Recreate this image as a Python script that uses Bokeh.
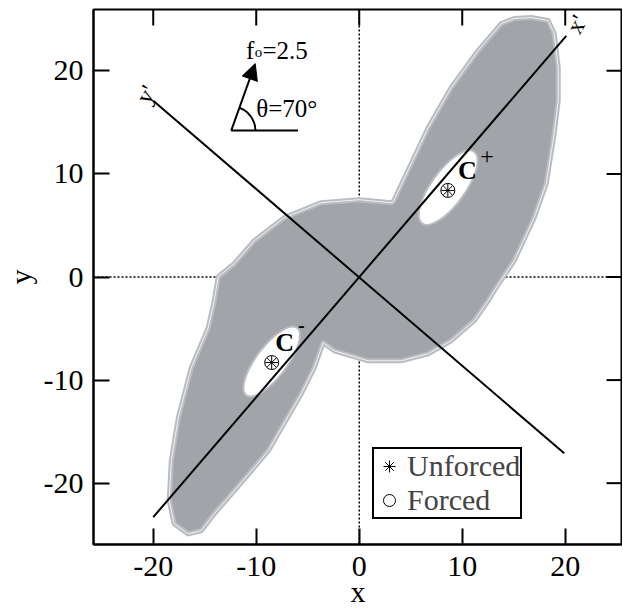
import numpy as np
from bokeh.plotting import figure
from bokeh.models import (Range1d, FixedTicker, Span, Arrow, NormalHead,
                          Label, Legend, LegendItem)
from bokeh.embed import file_html
from bokeh.resources import INLINE

# ---------------- data ----------------
ticks = [-20, -10, 0, 10, 20]
tick_labels = ["-20", "-10", "0", "10", "20"]
x_lim = [-25.8, 25.56]
y_lim = [-25.95, 25.95]
tick_len = 1.55  # inward tick length, data units

# outline of the grey attractor region (x, y)
outline_x = [-14.08, -13.69, -12.14, -10.19, -7.28, -3.69, 0.0, 3.11, 3.30, 6.70, 8.93, 11.55,
             13.79, 15.05, 16.70, 18.35, 18.93, 19.32, 19.32, 18.93, 18.16, 16.99, 15.05, 13.11,
             12.52, 11.17, 8.93, 6.70, 4.08, 0.87, -2.43, -3.50, -4.37, -5.63, -8.83, -12.14,
             -14.08, -15.34, -16.60, -17.96, -18.45, -18.25, -17.57, -16.31, -14.66]
outline_y = [-2.30, 0.03, 1.29, 3.52, 5.76, 7.21, 7.50, 7.21, 7.30, 14.50, 18.38, 21.97,
             24.59, 25.08, 25.17, 24.88, 23.62, 20.32, 17.11, 13.91, 9.06, 5.76, 1.58, -1.33,
             -2.30, -4.24, -6.18, -7.45, -8.13, -8.13, -7.16, -6.38, -8.81, -11.33, -16.87, -20.75,
             -22.98, -24.62, -24.92, -23.95, -21.72, -17.83, -13.66, -8.81, -4.92]

# white holes around C+ and C-
hole_x = [8.64, -8.5]
hole_y = [8.67, -8.2]
hole_w = [8.6, 8.2]
hole_h = [3.3, 3.0]
hole_angle_deg = [54, 53]

# fixed points
unforced_x = [8.6, -8.5]
unforced_y = [8.4, -8.3]
forced_x = [8.6, -8.5]
forced_y = [8.4, -8.3]

# rotated axes x' and y'
xprime_x = [-20.0, 20.1]
xprime_y = [-23.3, 23.4]
yprime_x = [-20.0, 19.9]
yprime_y = [17.1, -17.1]

# forcing arrow annotation
arrow_base = [-12.43, 14.2]
arrow_tip = [-10.10, 20.7]
base_line_end_x = [-5.95]
theta_deg = [70]
arc_radius = [2.35]

GREY = "#a1a5aa"
FRINGE = "#b9bcc0"
FONT = "Liberation Serif"

p = figure(frame_width=529, frame_height=535,
           x_range=Range1d(*x_lim), y_range=Range1d(*y_lim),
           output_backend="svg", toolbar_location=None,
           min_border_left=92, min_border_top=9, min_border_bottom=64, min_border_right=0,
           background_fill_color="white", border_fill_color="white")
p.grid.visible = False
p.outline_line_color = "black"
p.outline_line_width = 2

overrides = {t: s for t, s in zip(ticks, tick_labels)}
for ax in p.axis:
    ax.ticker = FixedTicker(ticks=ticks)
    ax.major_label_overrides = overrides
    ax.major_tick_in = 16
    ax.major_tick_out = 0
    ax.minor_tick_line_color = None
    ax.axis_line_width = 2
    ax.axis_line_color = "black"
    ax.major_tick_line_width = 2
    ax.major_tick_line_color = "black"
    ax.major_label_text_font = FONT
    ax.major_label_text_font_size = "30px"
    ax.major_label_text_color = "black"
    ax.axis_label_text_font = FONT
    ax.axis_label_text_font_size = "30px"
    ax.axis_label_text_font_style = "normal"
    ax.axis_label_text_color = "black"

p.xaxis[0].major_label_standoff = 12
p.yaxis[0].major_label_standoff = 10
p.xaxis[0].axis_label = "x"
p.yaxis[0].axis_label = "y"
p.xaxis[0].axis_label_standoff = -4
p.yaxis[0].axis_label_standoff = 4

# inward ticks on top and right frame edges
n = len(ticks)
p.segment(x0=ticks, y0=[y_lim[1]] * n, x1=ticks, y1=[y_lim[1] - tick_len] * n,
          line_color="black", line_width=2)
p.segment(x0=[x_lim[1]] * n, y0=ticks, x1=[x_lim[1] - tick_len] * n, y1=ticks,
          line_color="black", line_width=2)

# dotted zero lines
p.add_layout(Span(location=0, dimension="height", line_color="black", line_dash="2 2",
                  line_width=1.5, level="underlay"))
p.add_layout(Span(location=0, dimension="width", line_color="black", line_dash="2 2",
                  line_width=1.5, level="underlay"))

# attractor region with a soft, striped fringe
p.patch(outline_x, outline_y, fill_color=GREY, line_color=FRINGE, line_width=5,
        line_join="round")
p.patch(outline_x, outline_y, fill_color=None, line_color="white", line_width=0.8,
        line_join="round")
p.ellipse(x=hole_x, y=hole_y, width=hole_w, height=hole_h,
          angle=np.radians(hole_angle_deg), fill_color="white", line_color=FRINGE,
          line_width=2)

# rotated axes
p.line(xprime_x, xprime_y, line_color="black", line_width=2)
p.line(yprime_x, yprime_y, line_color="black", line_width=2)

r_unf = p.scatter(unforced_x, unforced_y, marker="asterisk", size=13, line_color="black",
                  line_width=1)
r_f = p.scatter(forced_x, forced_y, marker="circle", size=14, fill_color=None,
                line_color="black", line_width=1)

# forcing arrow
p.add_layout(Arrow(end=NormalHead(size=16, fill_color="black", line_color="black"),
                   x_start=arrow_base[0], y_start=arrow_base[1],
                   x_end=arrow_tip[0], y_end=arrow_tip[1],
                   line_color="black", line_width=2))
p.segment(x0=[arrow_base[0]], y0=[arrow_base[1]], x1=base_line_end_x, y1=[arrow_base[1]],
          line_color="black", line_width=2)
p.arc(x=[arrow_base[0]], y=[arrow_base[1]], radius=arc_radius, start_angle=0,
      end_angle=np.radians(theta_deg)[0], line_color="black", line_width=2)

def lab(x, y, t, size="25px", style="normal", align="left", baseline="alphabetic", angle=0.0):
    p.add_layout(Label(x=x, y=y, text=t, text_font=FONT, text_font_size=size,
                       text_font_style=style, text_align=align, text_baseline=baseline,
                       angle=angle, text_color="black"))

lab(-11.0, 22.0, "f")
lab(-10.15, 21.8, "o", size="15px")
lab(-9.40, 22.0, "=2.5")
lab(-10.0, 16.3, "θ=70°")

lab(9.6, 10.3, "C", size="26px", style="bold")
lab(12.4, 11.7, "+", size="24px", align="center", baseline="middle")
lab(-8.16, -6.4, "C", size="26px", style="bold")
lab(-5.63, -4.7, "-", size="20px", style="bold", align="center", baseline="middle")

lab(21.1, 24.5, "x'", size="24px", align="center", baseline="middle", angle=np.radians(60))
lab(-20.7, 17.7, "y'", size="24px", align="center", baseline="middle", angle=np.radians(60))

legend = Legend(items=[LegendItem(label="Unforced", renderers=[r_unf]),
                       LegendItem(label="Forced", renderers=[r_f])],
                location=(279, 25), label_text_font=FONT, label_text_font_size="30px",
                label_height=30, glyph_width=30, glyph_height=30, label_standoff=3,
                padding=0, spacing=0, margin=0, border_line_color="black",
                border_line_width=2, border_line_alpha=1,
                background_fill_color="white", background_fill_alpha=1)
p.add_layout(legend)

open("out.html", "w").write(file_html(p, INLINE))
